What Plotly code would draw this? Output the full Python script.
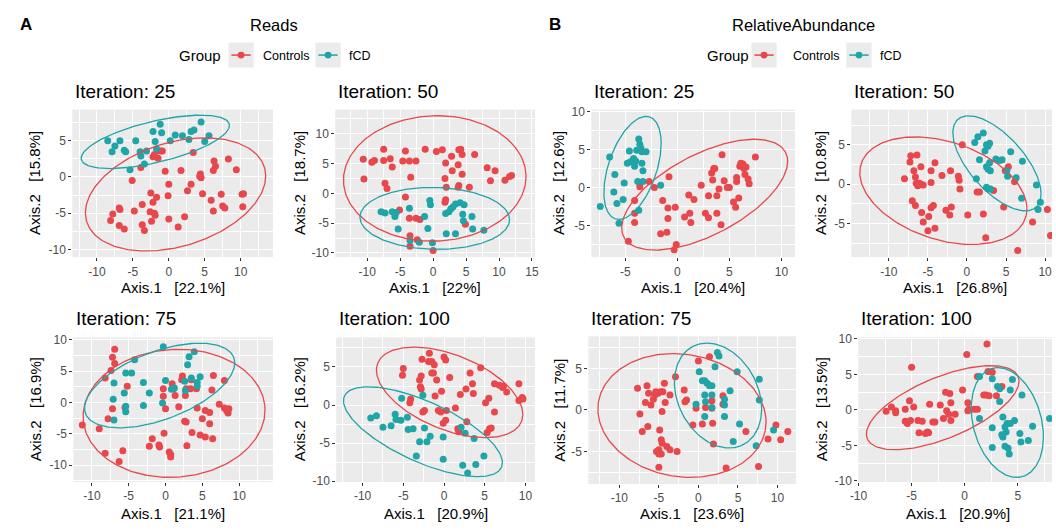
import numpy as np
import plotly.graph_objects as go

W, H = 1056, 530
RED = "#E8474B"
TEAL = "#1FA5A7"
FONT = "Liberation Sans, Arial, sans-serif"

# ---------------- data: Reads (A) ----------------
A25_ctrl_x = [-5.1,-3.9,-2.2,-2.0,-1.5,-1.2,-0.9,-0.5,0.0,-0.1,0.0,-2.5,-2.2,-1.7,-2.6,-2.0,-1.9,-2.4,-3.7,-4.8,-3.7,-3.4,-6.8,-6.9,-7.8,-8.1,-6.9,-6.2,1.3,2.2,1.7,2.6,3.1,3.4,4.4,4.5,4.3,4.7,5.9,6.2,6.3,6.5,6.2,7.3,7.5,7.8,8.3,9.4,10.2,10.4,10.3]
A25_ctrl_y = [-0.5,1.3,2.8,3.1,2.6,3.6,3.6,0.8,-1.0,-2.6,-5.8,-2.2,-3.5,-2.8,-4.8,-5.0,-5.3,-6.1,-3.8,-4.7,-6.6,-7.4,-4.5,-4.3,-5.1,-6.0,-6.7,-7.2,-6.9,-5.5,0.9,-1.9,-1.0,3.4,0.4,-0.1,0.1,-2.3,-3.2,-4.7,2.2,1.5,0.9,-2.4,-4.0,-4.3,2.5,1.0,-2.4,-2.3,-4.1]
A25_fcd_x = [-8.5,-7.9,-7.5,-6.8,-6.2,-6.0,-5.4,-4.6,-4.0,-3.9,-3.4,-3.1,-2.2,-1.9,-1.7,-1.2,-1.0,0.2,0.9,1.9,2.8,3.1,3.5,4.5,5.0,5.6]
A25_fcd_y = [5.0,3.5,4.3,5.0,3.7,3.5,1.0,5.0,3.5,2.9,1.8,3.6,6.3,4.9,3.9,7.3,6.1,5.0,5.8,5.7,5.2,6.3,6.5,7.6,4.9,5.7]

A50_ctrl_x = [-10.6,-10.5,-9.3,-8.9,-7.5,-7.5,-7.3,-7.0,-6.5,-6.2,-5.1,-4.6,-4.2,-4.2,-3.6,-3.4,-2.6,-3.6,-3.5,-3.5,-2.6,-2.0,-2.4,-1.2,0.5,1.4,1.9,1.8,2.0,1.8,1.9,2.8,2.9,3.8,3.9,4.2,4.4,4.4,3.9,3.8,4.9,5.5,6.3,8.2,8.7,9.4,10.9,11.6,11.9,0.0]
A50_ctrl_y = [5.7,2.4,5.2,5.5,5.5,7.4,1.7,0.8,5.8,4.4,-2.8,5.4,7.1,-0.6,5.4,2.7,5.4,-4.2,-7.1,-8.9,-4.2,-4.4,-7.8,7.4,7.0,7.3,5.1,2.5,1.0,-1.5,-1.1,6.2,3.8,4.8,7.3,7.4,6.5,3.2,1.3,1.0,-5.2,1.0,6.5,4.3,2.1,3.8,2.2,2.8,3.0,-9.6]
A50_fcd_x = [-7.9,-7.3,-6.2,-5.8,-5.3,-5.6,-3.6,-3.5,-2.1,-1.3,-0.8,-0.5,-0.4,-0.1,1.9,2.4,2.7,3.0,3.4,4.1,4.7,2.0,3.4,4.5,4.6,5.9,6.0,7.7]
A50_fcd_y = [-3.1,-3.3,-3.1,-3.9,-6.0,-3.2,-2.5,-7.9,-8.2,-3.9,-5.9,-1.2,-1.9,-8.3,-3.4,-3.1,-2.6,-2.3,-1.8,-1.6,-1.9,-6.8,-6.8,-3.5,-4.6,-3.9,-6.0,-6.2]

A75_ctrl_x = [-11.3,-9.0,-8.2,-8.2,-7.8,-7.4,-7.2,-6.9,-6.9,-7.2,-6.3,-5.8,-5.5,-5.2,-2.2,-1.8,-0.9,-0.8,-0.3,-0.3,-0.2,0.0,0.5,0.7,0.7,0.9,1.1,1.3,1.8,2.2,2.3,2.8,2.7,2.6,2.8,2.9,3.4,3.5,3.6,4.2,4.3,4.7,5.0,5.4,5.4,6.0,6.0,6.3,6.4,6.5,7.3,8.0,8.0,8.3,8.5,8.6]
A75_ctrl_y = [-3.6,-4.2,3.9,-8.1,-2.6,5.1,7.2,8.5,6.2,-1.0,-9.4,-7.7,-0.8,2.6,-7.0,-5.8,-6.8,-7.1,2.2,1.0,-4.9,-1.0,-7.9,-8.3,-8.7,3.0,2.2,1.1,-0.7,3.6,4.2,2.2,1.1,-3.0,-3.1,-6.9,2.2,3.6,-4.8,2.2,-0.9,-5.2,-2.6,-1.3,-5.5,-1.6,-3.4,2.0,-5.8,4.3,-0.3,3.5,-0.9,-1.3,-1.7,-1.0]
A75_fcd_x = [-7.0,-7.0,-7.1,-5.6,-5.4,-5.4,-5.4,-4.6,-4.2,-3.0,-3.0,-2.2,-0.4,-0.3,0.0,0.8,1.2,2.7,2.6,3.0,3.2,3.9,3.5,4.3,4.3,4.7]
A75_fcd_y = [-2.8,3.1,0.5,1.5,-0.6,-1.5,4.7,4.7,6.8,3.2,-0.5,1.5,-0.1,8.9,3.5,2.1,2.3,1.9,3.4,6.0,7.3,8.1,3.9,2.6,3.2,4.1]

A100_ctrl_x = [-5.0,-5.1,-4.2,-4.1,-3.0,-2.8,-2.7,-2.9,-2.8,-2.6,-2.4,-1.9,-1.8,-1.5,-1.2,-1.3,-0.9,-1.5,-1.1,-0.7,-0.3,0.0,0.2,0.3,-0.1,0.2,-0.4,0.7,1.4,1.7,2.0,1.8,2.7,2.8,3.2,3.5,3.6,4.5,5.3,5.6,5.5,5.8,6.2,6.2,6.8,7.2,7.7,7.3,9.2,9.2,9.6,9.7,5.1]
A100_ctrl_y = [4.8,3.9,0.3,0.8,3.3,3.8,6.0,2.4,2.1,-0.9,-0.7,5.7,6.8,5.7,5.3,4.2,3.3,4.2,1.2,-0.7,1.8,6.3,5.9,-0.7,-2.4,-2.0,-0.9,3.6,-0.4,-3.1,1.4,-3.5,2.1,-2.2,4.2,2.8,1.5,4.9,-3.6,-3.1,0.9,-3.0,-0.9,2.8,2.6,2.3,1.7,2.5,2.8,0.6,1.0,0.8,0.3]
A100_fcd_x = [-9.0,-8.3,-7.5,-6.5,-6.0,-5.9,-5.3,-5.2,-4.5,-4.4,-3.8,-3.4,-3.0,-2.6,-2.4,-2.1,-1.7,-0.1,-0.1,2.1,2.6,2.3,2.9,3.9,3.7,4.9]
A100_fcd_y = [-1.7,-1.4,-2.9,-2.7,-1.2,-1.9,-2.0,0.9,-1.6,-3.2,-3.1,-6.7,-4.8,1.3,-3.0,-4.8,-4.1,-4.2,-7.1,-2.9,-3.7,-7.9,-8.9,-7.8,-4.4,-6.7]

# ---------------- data: RelativeAbundance (B) ----------------
B25_ctrl_x = [-4.7,-4.1,-4.1,-4.1,-3.6,-2.7,-2.2,-1.6,-1.4,-1.0,-0.9,-0.9,-0.8,-0.2,-0.1,-0.3,0.7,1.1,1.2,1.3,1.6,2.3,2.7,3.0,3.0,3.3,3.5,3.6,3.4,3.8,3.8,4.0,4.2,4.3,4.5,4.8,5.0,5.4,5.6,5.7,5.7,5.9,6.0,6.1,6.3,6.4,6.5,6.6,6.8,6.9,7.5]
B25_ctrl_y = [-7.1,-3.4,-4.6,-1.7,0.1,0.8,0.0,-6.1,-1.7,-5.9,-2.7,-4.1,1.4,-2.6,-7.5,-8.2,-3.9,-1.0,-3.4,-4.6,-1.6,0.3,-3.4,-1.1,-4.0,1.9,2.5,2.5,1.0,-1.1,-3.4,-0.2,-4.9,4.3,0.9,0.0,0.0,-1.9,-2.6,1.3,0.8,-1.4,2.8,3.2,3.1,2.5,1.7,2.7,1.1,0.5,4.0]
B25_fcd_x = [-7.4,-6.5,-6.0,-6.1,-5.8,-5.6,-5.2,-5.1,-4.6,-4.8,-4.5,-4.2,-4.1,-4.0,-3.9,-3.8,-3.7,-3.6,-3.5,-3.4,-3.4,-3.3,-3.3,-3.0,-3.7,-1.6]
B25_fcd_y = [-2.5,4.0,1.7,-0.6,-2.1,-4.7,-1.6,0.6,4.8,3.2,3.4,3.8,2.8,3.5,4.9,0.8,6.4,5.7,5.2,4.7,3.2,2.2,0.8,4.7,-3.0,0.3]

B50_ctrl_x = [-0.6,-8.0,-7.3,-7.2,-6.4,-6.8,-6.6,-6.5,-6.3,-6.1,-5.9,-5.6,-5.9,-7.0,-6.6,-5.8,-5.6,-4.9,-5.0,-4.6,-4.3,-4.6,-4.6,-4.1,-4.1,-3.2,-2.7,-2.2,-2.1,-2.0,-1.1,-0.9,-1.0,0.1,1.3,1.6,2.1,2.4,3.4,4.7,4.9,5.3,6.1,6.5,8.4,10.3,10.7]
B50_ctrl_y = [5.0,0.7,2.8,3.6,3.7,1.7,0.9,0.1,-0.2,0.1,0.0,-0.1,2.2,-2.1,-2.7,-3.6,-4.8,-4.1,-5.9,-3.0,-2.7,0.2,1.7,2.7,-5.6,1.1,-3.3,-3.9,1.7,-2.9,1.0,-0.6,0.5,-3.9,-1.0,-1.0,-3.8,-6.8,-0.8,-2.9,1.7,2.2,0.3,-8.4,-4.8,-3.2,-6.5]
B50_fcd_x = [1.0,1.4,2.1,1.6,1.2,2.3,2.5,2.9,2.7,2.5,2.7,2.9,3.0,2.5,2.7,3.0,3.7,4.2,4.5,5.1,5.2,5.6,6.3,7.1,7.0,8.9,9.1,9.4]
B50_fcd_y = [5.3,6.0,6.5,3.1,0.7,4.2,5.0,5.2,4.8,2.2,1.9,2.7,1.7,-0.4,-0.6,-0.6,3.2,3.0,3.1,1.7,1.0,4.1,0.8,2.9,-1.8,-0.1,-3.2,-2.3]

B75_ctrl_x = [-7.7,-7.4,-7.1,-6.7,-6.5,-6.4,-6.3,-6.0,-5.7,-5.5,-5.4,-5.1,-4.8,-4.5,-4.3,-4.6,-4.2,-3.6,-4.9,-4.7,-4.6,-5.0,-5.3,-5.0,-4.7,-4.0,-3.6,-2.7,-5.0,-2.9,-1.8,-1.5,-1.7,-0.7,-0.3,0.0,0.5,0.9,1.4,1.7,1.7,1.8,1.9,3.1,3.1,3.5,6.0,7.6,8.8,9.8,10.4,11.3]
B75_ctrl_y = [2.6,-0.5,-2.6,0.9,2.9,-2.0,2.0,0.6,1.3,1.8,2.2,2.0,2.2,2.2,3.2,-0.2,0.9,1.8,-2.4,-3.6,-4.0,-4.8,-5.0,-5.3,-5.3,-4.4,-4.8,-5.0,-6.9,4.0,2.4,1.2,1.0,-1.8,0.2,5.9,-1.7,0.3,6.4,1.1,0.2,-1.6,-4.1,1.7,0.7,-7.0,-2.6,-6.8,-3.5,-1.8,-3.6,-2.6]
B75_fcd_x = [-0.3,0.1,0.5,0.8,0.9,0.8,0.8,1.1,1.4,1.7,1.7,1.7,2.1,2.4,2.6,3.3,3.3,3.3,4.0,4.4,4.9,5.2,7.7,7.7,7.3,9.5]
B75_fcd_y = [0.7,4.6,3.5,1.8,1.0,-0.8,3.5,3.2,2.9,2.9,1.8,0.3,5.2,6.9,6.5,1.3,0.6,-0.8,2.3,-3.8,4.6,-1.7,3.7,1.2,-4.3,-2.4]

B100_ctrl_x = [-7.4,-6.9,-6.5,-6.5,-5.6,-5.4,-5.6,-5.2,-5.1,-5.0,-4.8,-4.4,-4.3,-4.0,-3.7,-3.5,-3.4,-3.3,-3.0,-2.8,-2.3,-2.0,-1.8,-1.7,-1.5,-1.4,-1.3,-1.3,-0.9,-0.2,0.2,0.3,0.4,0.3,0.9,1.2,1.2,1.8,2.0,2.1,2.2,2.3,2.6,3.0,3.5]
B100_ctrl_y = [-0.2,0.4,-0.1,-0.4,-1.6,-1.9,0.1,1.3,-1.5,6.0,0.4,-1.5,-3.2,-1.6,-3.3,-3.1,-3.2,0.8,-1.7,-1.7,0.7,-1.2,2.5,-0.1,-0.6,2.3,-1.5,1.0,-0.6,2.8,7.8,1.0,0.1,-0.1,0.1,0.1,4.7,2.1,2.1,9.3,5.4,2.0,5.3,2.0,3.3]
B100_fcd_x = [1.4,1.4,2.6,2.6,2.6,3.1,3.3,3.3,3.5,3.6,3.6,3.8,3.8,3.9,4.0,4.1,4.2,4.3,4.3,4.5,4.7,5.2,5.3,5.4,6.0,6.4,8.0]
B100_fcd_y = [-1.2,4.7,4.4,-2.5,-5.3,3.3,1.2,3.0,-3.5,-1.0,-3.8,-2.4,-5.1,-3.1,-1.9,-5.4,-6.2,2.8,-1.9,4.3,-1.5,-3.3,-4.5,2.1,-4.3,-2.3,-1.2]

# ellipse outlines: [centre x, centre y, half-width, half-height, y-offset at right-most point]
A25_ell_ctrl = [0.94, -2.41, 12.55, 7.82, 2.55]
A25_ell_fcd = [-1.88, 4.86, 10.32, 3.69, 2.26]
A50_ell_ctrl = [0.25, 2.49, 13.85, 10.52, 0.3]
A50_ell_fcd = [0.25, -4.21, 11.35, 5.19, -0.2]
A75_ell_ctrl = [1.16, -1.74, 12.35, 10.21, 0.5]
A75_ell_fcd = [-0.8, 2.7, 10.2, 6.75, 3.6]
A100_ell_ctrl = [0.69, 1.67, 8.99, 5.94, -2.9]
A100_ell_fcd = [-2.59, -3.5, 9.76, 5.9, -4.06]
B25_ell_ctrl = [2.63, -0.95, 7.97, 7.30, 4.38]
B25_ell_fcd = [-4.3, 2.57, 2.75, 6.79, 3.22]
B50_ell_ctrl = [-3.02, -0.83, 10.7, 6.82, -2.3]
B50_ell_fcd = [3.84, 2.64, 5.65, 6.03, -3.88]
B75_ell_ctrl = [-2.08, -0.67, 10.63, 7.45, -0.78]
B75_ell_fcd = [2.48, 1.73, 5.52, 6.31, -1.6]
B100_ell_ctrl = [-2.07, 0.32, 7.19, 5.92, 3.72]
B100_ell_fcd = [4.02, -1.77, 3.4, 7.73, -2.0]

titles = ["Iteration: 25", "Iteration: 50", "Iteration: 75", "Iteration: 100",
          "Iteration: 25", "Iteration: 50", "Iteration: 75", "Iteration: 100"]
x_pct = ["22.1%", "22%", "21.1%", "20.9%", "20.4%", "26.8%", "23.6%", "20.9%"]
y_pct = ["15.8%", "18.7%", "16.9%", "16.2%", "12.6%", "10.8%", "11.7%", "13.5%"]

data = [
    (A25_ctrl_x, A25_ctrl_y, A25_fcd_x, A25_fcd_y, A25_ell_ctrl, A25_ell_fcd),
    (A50_ctrl_x, A50_ctrl_y, A50_fcd_x, A50_fcd_y, A50_ell_ctrl, A50_ell_fcd),
    (A75_ctrl_x, A75_ctrl_y, A75_fcd_x, A75_fcd_y, A75_ell_ctrl, A75_ell_fcd),
    (A100_ctrl_x, A100_ctrl_y, A100_fcd_x, A100_fcd_y, A100_ell_ctrl, A100_ell_fcd),
    (B25_ctrl_x, B25_ctrl_y, B25_fcd_x, B25_fcd_y, B25_ell_ctrl, B25_ell_fcd),
    (B50_ctrl_x, B50_ctrl_y, B50_fcd_x, B50_fcd_y, B50_ell_ctrl, B50_ell_fcd),
    (B75_ctrl_x, B75_ctrl_y, B75_fcd_x, B75_fcd_y, B75_ell_ctrl, B75_ell_fcd),
    (B100_ctrl_x, B100_ctrl_y, B100_fcd_x, B100_fcd_y, B100_ell_ctrl, B100_ell_fcd),
]

# ---------------- layout geometry (pixels) ----------------
boxes = [(65, 268, 107, 258), (331, 533, 107, 258), (66, 268, 340, 488), (332, 533, 340, 488),
         (590, 796, 107, 258), (853, 1056, 107, 258), (587, 797, 339, 490), (860, 1056, 340, 488)]
xranges = [(-13.44, 14.5), (-14.85, 15.45), (-12.53, 14.59), (-13.24, 11.17),
           (-8.26, 11.3), (-14.81, 10.89), (-13.92, 12.33), (-10.03, 8.23)]
yranges = [(-11.08, 9.32), (-10.71, 14.04), (-12.68, 10.39), (-10.09, 8.89),
           (-9.18, 10.26), (-9.26, 9.46), (-8.90, 8.86), (-10.14, 10.23)]
xticks = [[-10, -5, 0, 5, 10], [-10, -5, 0, 5, 10, 15], [-10, -5, 0, 5, 10], [-10, -5, 0, 5, 10],
          [-5, 0, 5, 10], [-10, -5, 0, 5, 10], [-10, -5, 0, 5, 10], [-10, -5, 0, 5]]
yticks = [[-10, -5, 0, 5], [-10, -5, 0, 5, 10], [-10, -5, 0, 5, 10], [-10, -5, 0, 5],
          [-5, 0, 5, 10], [-5, 0, 5], [-5, 0, 5], [-10, -5, 0, 5, 10]]
xtitle_px = [(166.5, 289), (432, 289), (167, 520), (432.5, 520),
             (693, 289), (957.5, 289), (692, 520), (961, 520)]
ytitle_px = [27, 295, 28, 295, 557, 822, 557, 823]


def px_x(v):
    return v / W


def px_y(v):
    return 1 - v / H


def ellipse(p, n=240):
    cx, cy, a, b, dy = p
    phi = np.arccos(np.clip(dy / b, -1, 1))
    t = np.linspace(0, 2 * np.pi, n)
    return cx + a * np.cos(t), cy + b * np.cos(t + phi)


fig = go.Figure()
layout = dict(width=W, height=H, autosize=False, margin=dict(l=0, r=0, t=0, b=0),
              paper_bgcolor="white", plot_bgcolor="#EBEBEB", showlegend=False,
              font=dict(family=FONT, color="black"))
annotations = []
shapes = []

for i, (cxs, cys, fxs, fys, ec, ef) in enumerate(data):
    n = i + 1
    xa = "x" if n == 1 else f"x{n}"
    ya = "y" if n == 1 else f"y{n}"
    l, r, t, b = boxes[i]
    minor_vals = list(np.arange(-17.5, 20, 5))
    common = dict(showgrid=True, gridcolor="white", gridwidth=1.4, zeroline=False,
                  ticks="outside", ticklen=3, tickwidth=1, tickcolor="#333333",
                  tickfont=dict(size=12, color="#4D4D4D", family=FONT),
                  showline=False, fixedrange=True,
                  minor=dict(tickmode="array", tickvals=minor_vals, showgrid=True,
                             gridcolor="white", gridwidth=0.7, ticks=""))
    layout["xaxis" if n == 1 else f"xaxis{n}"] = dict(
        domain=[px_x(l), px_x(r)], range=list(xranges[i]), anchor=ya,
        tickmode="array", tickvals=xticks[i], ticktext=[str(v) for v in xticks[i]], **common)
    layout["yaxis" if n == 1 else f"yaxis{n}"] = dict(
        domain=[px_y(b), px_y(t)], range=list(yranges[i]), anchor=xa,
        tickmode="array", tickvals=yticks[i], ticktext=[str(v) for v in yticks[i]], **common)

    fig.add_trace(go.Scatter(x=cxs, y=cys, mode="markers", xaxis=xa, yaxis=ya,
                             marker=dict(color=RED, size=7, line=dict(width=0))))
    fig.add_trace(go.Scatter(x=fxs, y=fys, mode="markers", xaxis=xa, yaxis=ya,
                             marker=dict(color=TEAL, size=7, line=dict(width=0))))
    ex, ey = ellipse(ec)
    fig.add_trace(go.Scatter(x=ex, y=ey, mode="lines", xaxis=xa, yaxis=ya,
                             line=dict(color=RED, width=1.3), hoverinfo="skip"))
    ex, ey = ellipse(ef)
    fig.add_trace(go.Scatter(x=ex, y=ey, mode="lines", xaxis=xa, yaxis=ya,
                             line=dict(color=TEAL, width=1.3), hoverinfo="skip"))

    title_y = 88 if t < 200 else 320.5
    annotations.append(dict(text=titles[i], x=px_x(l + 1), y=px_y(title_y), xref="paper", yref="paper",
                            xanchor="left", yanchor="middle", showarrow=False,
                            font=dict(size=19, family=FONT, color="black")))
    sp = "\u00a0\u00a0\u00a0"
    xt_x, xt_y = xtitle_px[i]
    annotations.append(dict(text=f"Axis.1{sp}[{x_pct[i]}]", x=px_x(xt_x), y=px_y(xt_y),
                            xref="paper", yref="paper", xanchor="center", yanchor="middle",
                            showarrow=False, font=dict(size=15, family=FONT, color="black")))
    annotations.append(dict(text=f"Axis.2{sp}[{y_pct[i]}]", x=px_x(ytitle_px[i]), y=px_y((t + b) / 2),
                            xref="paper", yref="paper", xanchor="center", yanchor="middle",
                            textangle=-90, showarrow=False,
                            font=dict(size=15, family=FONT, color="black")))

for label, lx, head, hx in [("A", 18, "Reads", 269), ("B", 553, "RelativeAbundance", 804.5)]:
    annotations.append(dict(text=f"<b>{label}</b>", x=px_x(lx), y=px_y(19.5), xref="paper", yref="paper",
                            xanchor="center", yanchor="middle", showarrow=False,
                            font=dict(size=17, family=FONT, color="black")))
    annotations.append(dict(text=head, x=px_x(hx), y=px_y(20), xref="paper", yref="paper",
                            xanchor="center", yanchor="middle", showarrow=False,
                            font=dict(size=16.5, family=FONT, color="black")))

legend_groups = ["Controls", "fCD"]
legend_colors = [RED, TEAL]
legend_specs = [
    (194, [(223, 248.5, 256), (311, 336.5, 343)]),
    (728.5, [(752, 777.5, 792), (848, 873.5, 880)]),
]
for gx, keys in legend_specs:
    annotations.append(dict(text="Group", x=px_x(gx), y=px_y(52), xref="paper", yref="paper",
                            xanchor="center", yanchor="middle", showarrow=False,
                            font=dict(size=15, family=FONT, color="black")))
    for (k0, k1, tx), name, col in zip(keys, legend_groups, legend_colors):
        y0, y1 = 38.5, 64
        shapes.append(dict(type="rect", xref="paper", yref="paper", x0=px_x(k0), x1=px_x(k1),
                           y0=px_y(y1), y1=px_y(y0), fillcolor="#EBEBEB", line=dict(width=0), layer="below"))
        ym = (y0 + y1) / 2
        shapes.append(dict(type="line", xref="paper", yref="paper", x0=px_x(k0 + 3), x1=px_x(k1 - 3),
                           y0=px_y(ym), y1=px_y(ym), line=dict(color=col, width=1.5)))
        cxp = (k0 + k1) / 2
        shapes.append(dict(type="circle", xref="paper", yref="paper", x0=px_x(cxp - 3.5), x1=px_x(cxp + 3.5),
                           y0=px_y(ym + 3.5), y1=px_y(ym - 3.5), fillcolor=col, line=dict(width=0)))
        annotations.append(dict(text=name, x=px_x(tx), y=px_y(52), xref="paper", yref="paper",
                                xanchor="left", yanchor="middle", showarrow=False,
                                font=dict(size=12.5, family=FONT, color="black")))

layout["annotations"] = annotations
layout["shapes"] = shapes
fig.update_layout(**layout)
fig.write_html("out.html")
